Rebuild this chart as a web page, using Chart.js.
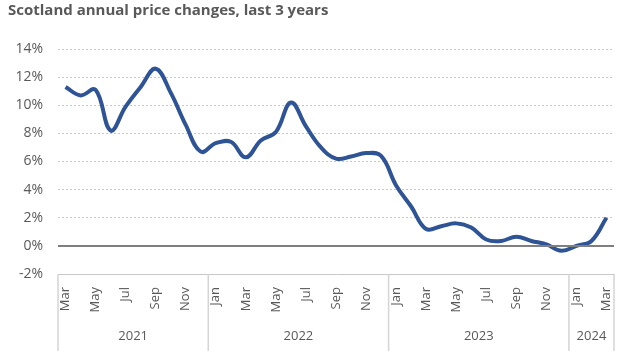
<!DOCTYPE html>
<html lang="en">
<head>
  <meta charset="UTF-8" />
  <title>Scotland annual price changes</title>
  <script src="https://cdn.jsdelivr.net/npm/chart.js"></script>
  <style>
    html, body {
      margin: 0;
      padding: 0;
      background: #ffffff;
    }
    #wrap {
      width: 641px;
      height: 351px;
    }
  </style>
</head>
<body>
  <div id="wrap">
    <canvas id="priceChart" width="641" height="351"></canvas>
  </div>

  <script>
    const months = [
      'Mar', 'Apr', 'May', 'Jun', 'Jul', 'Aug', 'Sep', 'Oct', 'Nov', 'Dec',
      'Jan', 'Feb', 'Mar', 'Apr', 'May', 'Jun', 'Jul', 'Aug', 'Sep', 'Oct', 'Nov', 'Dec',
      'Jan', 'Feb', 'Mar', 'Apr', 'May', 'Jun', 'Jul', 'Aug', 'Sep', 'Oct', 'Nov', 'Dec',
      'Jan', 'Feb', 'Mar'
    ];
    const years = ['2021', '2022', '2023', '2024'];
    const priceChange = [
      11.3, 10.7, 11.1, 8.2, 9.9, 11.3, 12.6, 10.9, 8.6, 6.7,
      7.3, 7.4, 6.3, 7.5, 8.1, 10.2, 8.5, 7.0, 6.2, 6.35, 6.6, 6.4,
      4.3, 2.8, 1.2, 1.4, 1.6, 1.3, 0.45, 0.35, 0.65, 0.35, 0.1, -0.35,
      0.0, 0.35, 2.0
    ];
    const yTicks = { min: -2, max: 14, step: 2 };

    const textColor = '#595959';
    const fontFamily = "'Open Sans', sans-serif";

    // year labels + separators under the month labels
    const yearAxis = {
      id: 'yearAxis',
      afterDraw(chart) {
        const ctx = chart.ctx;
        const x = chart.scales.x;
        const area = chart.chartArea;
        const half = (x.getPixelForValue(1) - x.getPixelForValue(0)) / 2;

        // boundaries: start, every Jan, end
        const bounds = [0];
        months.forEach((m, i) => { if (m === 'Jan') bounds.push(i); });
        bounds.push(months.length);

        ctx.save();
        ctx.strokeStyle = '#d4d4d4';
        ctx.lineWidth = 1.5;
        const edges = bounds.map(i => i < months.length ? x.getPixelForValue(i) - half : x.getPixelForValue(months.length - 1) + half);
        edges.forEach(px => {
          ctx.beginPath();
          ctx.moveTo(px, area.bottom);
          ctx.lineTo(px, chart.height);
          ctx.stroke();
        });

        ctx.fillStyle = textColor;
        ctx.font = '13px ' + fontFamily;
        ctx.textAlign = 'center';
        ctx.textBaseline = 'middle';
        years.forEach((y, k) => {
          ctx.fillText(y, (edges[k] + edges[k + 1]) / 2, 336);
        });

        // solid zero line
        const y0 = chart.scales.y.getPixelForValue(0);
        ctx.strokeStyle = '#7f7f7f';
        ctx.lineWidth = 2;
        ctx.beginPath();
        ctx.moveTo(area.left, y0);
        ctx.lineTo(area.right, y0);
        ctx.stroke();
        ctx.restore();
      }
    };

    const ctx = document.getElementById('priceChart').getContext('2d');
    new Chart(ctx, {
      type: 'line',
      data: {
        labels: months,
        datasets: [{
          data: priceChange,
          borderColor: '#2f5496',
          borderWidth: 4,
          tension: 0.4,
          pointRadius: 0,
          fill: false
        }]
      },
      plugins: [yearAxis],
      options: {
        responsive: false,
        animation: false,
        layout: {
          padding: { left: 8, right: 27, top: 0, bottom: 0 }
        },
        plugins: {
          legend: { display: false },
          tooltip: { enabled: false },
          title: {
            display: true,
            text: 'Scotland annual price changes, last 3 years',
            align: 'start',
            color: textColor,
            font: { family: fontFamily, size: 15, weight: 'bold' },
            padding: { top: 2, bottom: 29 }
          }
        },
        scales: {
          x: {
            offset: true,
            grid: { display: false },
            border: { display: true, color: '#c8c8c8', width: 1, dash: [2, 2] },
            afterFit(scale) { scale.height = 77; },
            ticks: {
              autoSkip: false,
              minRotation: 90,
              maxRotation: 90,
              padding: 5,
              color: textColor,
              font: { family: fontFamily, size: 13 },
              callback(value, index) {
                return index % 2 === 0 ? months[index] : '';
              }
            }
          },
          y: {
            min: yTicks.min,
            max: yTicks.max,
            afterFit(scale) { scale.width = 50; },
            border: { display: false, dash: [2, 2] },
            grid: {
              color: '#c8c8c8',
              lineWidth: 1,
              drawTicks: false
            },
            ticks: {
              stepSize: yTicks.step,
              padding: 15,
              color: textColor,
              font: { family: fontFamily, size: 14 },
              callback: v => v + '%'
            }
          }
        }
      }
    });
  </script>
</body>
</html>
